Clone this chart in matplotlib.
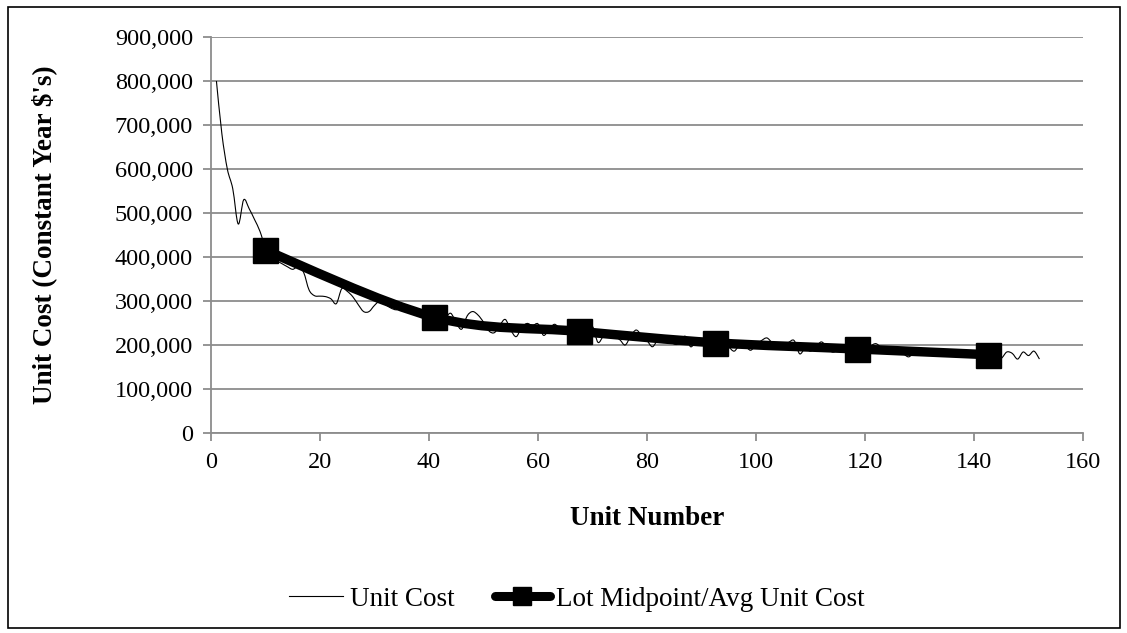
"""
Unit cost vs unit number with lot midpoint / average unit cost overlay.
"""

import numpy as np
import matplotlib
matplotlib.use('Agg')
import matplotlib.pyplot as plt
from matplotlib.path import Path
from matplotlib.patches import PathPatch, Rectangle
from matplotlib.lines import Line2D
from matplotlib.ticker import FuncFormatter

plt.rcParams['font.family'] = ['Liberation Serif', 'DejaVu Serif']
plt.rcParams['font.size'] = 17.5

# Unit cost per unit (units 1..152)
unit_numbers = list(range(1, 153))
unit_cost = [
    800000, 680000, 600000, 555000, 475000, 530000, 510000, 485000, 458000, 420000,
    400000, 392000, 385000, 378000, 372000, 378000, 365000, 325000, 312000, 311000,
    310000, 305000, 294000, 328000, 322000, 310000, 292000, 276000, 276000, 290000,
    300000, 292000, 284000, 280000, 285000, 280000, 276000, 272000, 270000, 266000,
    262000, 258000, 262000, 272000, 250000, 236000, 266000, 276000, 268000, 252000,
    232000, 228000, 245000, 258000, 234000, 219000, 240000, 249000, 244000, 248000,
    222000, 235000, 247000, 238000, 234000, 232000, 230000, 228000, 232000, 242000,
    206000, 220000, 224000, 220000, 212000, 200000, 220000, 234000, 222000, 210000,
    196000, 212000, 216000, 214000, 202000, 204000, 220000, 196000, 208000, 210000,
    208000, 206000, 204000, 202000, 195000, 186000, 200000, 198000, 188000, 200000,
    210000, 216000, 205000, 200000, 198000, 206000, 210000, 180000, 192000, 186000,
    196000, 207000, 195000, 184000, 188000, 192000, 193000, 192000, 190000, 192000,
    198000, 203000, 194000, 188000, 186000, 184000, 180000, 173000, 182000, 184000,
    182000, 180000, 181000, 180000, 180000, 179000, 179000, 178000, 178000, 177000,
    178000, 178000, 178000, 176000, 170000, 184000, 181000, 168000, 184000, 176000,
    186000, 168000,
]

# Lot midpoints and average unit cost per lot
lot_midpoints = [10, 41, 67.5, 92.5, 118.5, 142.5]
lot_avg_cost = [415000, 263000, 231000, 205000, 191000, 178000]


def smooth_path(x, y):
    """Excel-style smoothed line: cubic Bezier through every point."""
    x = np.asarray(x, float)
    y = np.asarray(y, float)
    verts = [(x[0], y[0])]
    codes = [Path.MOVETO]
    n = len(x)
    for i in range(n - 1):
        x0, y0 = (x[i - 1], y[i - 1]) if i > 0 else (x[i], y[i])
        x3, y3 = (x[i + 2], y[i + 2]) if i + 2 < n else (x[i + 1], y[i + 1])
        c1 = (x[i] + (x[i + 1] - x0) / 6, y[i] + (y[i + 1] - y0) / 6)
        c2 = (x[i + 1] - (x3 - x[i]) / 6, y[i + 1] - (y3 - y[i]) / 6)
        verts += [c1, c2, (x[i + 1], y[i + 1])]
        codes += [Path.CURVE4] * 3
    return Path(verts, codes)


fig = plt.figure(figsize=(11.27, 6.33), dpi=100)
ax = fig.add_axes([0.1872, 0.316, 0.7738, 0.6255])

grid_color = '#8c8c8c'

ax.add_patch(PathPatch(smooth_path(unit_numbers, unit_cost), facecolor='none',
                       edgecolor='black', linewidth=0.8, zorder=3))
ax.add_patch(PathPatch(smooth_path(lot_midpoints, lot_avg_cost), facecolor='none',
                       edgecolor='black', linewidth=6.8, zorder=4,
                       capstyle='butt', joinstyle='round'))
ax.plot(lot_midpoints, lot_avg_cost, linestyle='none', marker='s', markersize=18,
        color='black', zorder=5)

ax.set_xlim(0, 160)
ax.set_ylim(0, 900000)
ax.set_xticks(range(0, 161, 20))
ax.set_yticks(range(0, 900001, 100000))
ax.yaxis.set_major_formatter(FuncFormatter(lambda v, p: f"{int(v):,}"))

ax.grid(axis='y', color=grid_color, linewidth=1.3)
ax.set_axisbelow(True)
for side in ['top', 'right']:
    ax.spines[side].set_visible(False)
for side in ['left', 'bottom']:
    ax.spines[side].set_color(grid_color)
    ax.spines[side].set_linewidth(1.3)
ax.tick_params(axis='both', color=grid_color, width=1.3, length=6, direction='out')
ax.tick_params(axis='x', pad=8)
ax.tick_params(axis='y', pad=7)

ax.set_xlabel('Unit Number', fontweight='bold', fontsize=19.5)
ax.xaxis.set_label_coords(0.5, -0.185)
ax.set_ylabel("Unit Cost (Constant Year \\$'s)", fontweight='bold', fontsize=19.5)
ax.yaxis.set_label_coords(-0.176, 0.5)

handles = [
    Line2D([], [], color='black', linewidth=0.8),
    Line2D([], [], color='black', linewidth=6.5, marker='s', markersize=13,
           solid_capstyle='round'),
]
fig.legend(handles, ['Unit Cost', 'Lot Midpoint/Avg Unit Cost'], loc='center',
           bbox_to_anchor=(0.512, 0.053), ncol=2, frameon=False, handlelength=2.0,
           handletextpad=0.25, columnspacing=1.5, fontsize=19.5)

fig.add_artist(Rectangle((0.007, 0.008), 0.987, 0.981, transform=fig.transFigure,
                         facecolor='none', edgecolor='black', linewidth=1.2))

plt.savefig('out.png', dpi=100, facecolor='white')
plt.close()
